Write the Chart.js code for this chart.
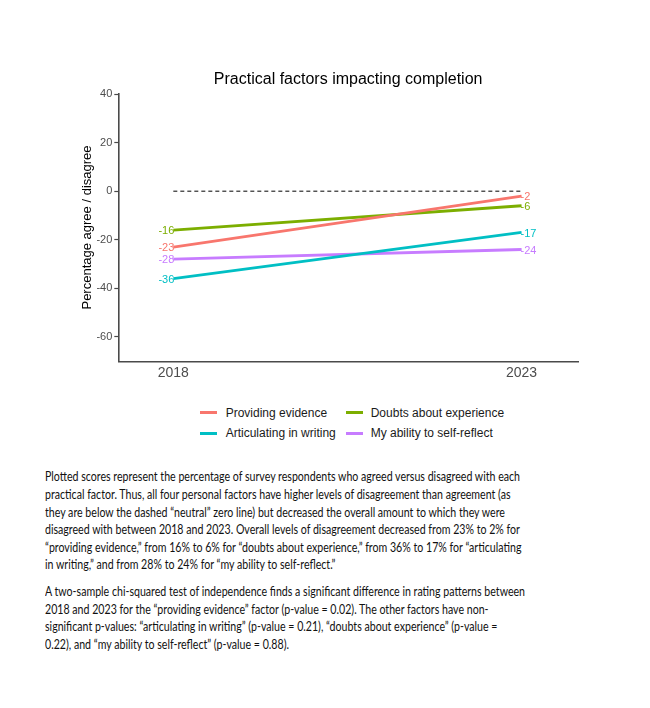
<!DOCTYPE html>
<html>
<head>
<meta charset="utf-8">
<script src="https://cdn.jsdelivr.net/npm/chart.js@4.4.0/dist/chart.umd.min.js"></script>
<style>
  html, body { margin: 0; padding: 0; background: #fff; }
  body { width: 650px; height: 708px; position: relative; overflow: hidden; }
  #c { position: absolute; left: 0; top: 0; }
  .leg { position: absolute; font-family: "Liberation Sans", Arial, sans-serif; font-size: 12px; color: #1a1a1a; white-space: nowrap; }
  .sw { position: absolute; height: 3px; width: 17px; }
  .txt { position: absolute; font-family: Lato, "Open Sans", sans-serif; font-size: 14px; color: #111; white-space: nowrap; line-height: 17px; transform-origin: 0 50%; }
</style>
</head>
<body>
<canvas id="c" width="650" height="400"></canvas>
<div id="legend"></div>
<div id="para"></div>
<script>
// ---- data ----
const years = [2018, 2023];
const seriesNames = ["Providing evidence", "Doubts about experience", "Articulating in writing", "My ability to self-reflect"];
const providingEvidence = [-23, -2];
const doubtsExperience = [-16, -6];
const articulatingWriting = [-36, -17];
const selfReflect = [-28, -24];
const neutralLine = [0, 0];
const yTicks = [-60, -40, -20, 0, 20, 40];
const colors = ["#F8766D", "#7CAE00", "#00BFC4", "#C77CFF"];
const chartTitle = "Practical factors impacting completion";

const seriesValues = [providingEvidence, doubtsExperience, articulatingWriting, selfReflect];

const datasets = seriesValues.map((vals, i) => ({
  label: seriesNames[i],
  data: years.map((y, j) => ({ x: y, y: vals[j] })),
  borderColor: colors[i],
  backgroundColor: colors[i],
  borderWidth: 2.8,
  pointRadius: 0,
  tension: 0,
  isSeries: true
}));
datasets.unshift({
  label: "neutral",
  data: years.map((y, j) => ({ x: y, y: neutralLine[j] })),
  borderColor: "#000",
  borderWidth: 1,
  borderDash: [4, 3],
  pointRadius: 0,
  isSeries: false
});

const labelPlugin = {
  id: "endLabels",
  afterDatasetsDraw(chart) {
    const ctx = chart.ctx;
    ctx.save();
    ctx.font = "11px 'Liberation Sans', Arial, sans-serif";
    ctx.textBaseline = "middle";
    chart.data.datasets.forEach((ds, di) => {
      if (!ds.isSeries) return;
      const meta = chart.getDatasetMeta(di);
      meta.data.forEach((pt, j) => {
        const v = ds.data[j].y;
        ctx.fillStyle = ds.borderColor;
        ctx.textAlign = j === 0 ? "right" : "left";
        ctx.fillText(String(v), pt.x + (j === 0 ? 1 : -1), pt.y + 1);
      });
    });
    ctx.restore();
  },
  afterDraw(chart) {
    const ctx = chart.ctx;
    const a = chart.chartArea;
    ctx.save();
    ctx.font = "16px 'Liberation Sans', Arial, sans-serif";
    ctx.fillStyle = "#000";
    ctx.textAlign = "center";
    ctx.textBaseline = "middle";
    ctx.fillText(chartTitle, (a.left + a.right) / 2, 80);
    ctx.restore();
  }
};

new Chart(document.getElementById("c"), {
  type: "line",
  data: { datasets },
  plugins: [labelPlugin],
  options: {
    responsive: false,
    animation: false,
    devicePixelRatio: 1,
    layout: { padding: { left: 0, right: 72, top: 93.3, bottom: 0 } },
    plugins: {
      legend: { display: false },
      tooltip: { enabled: false },
      title: { display: false }
    },
    scales: {
      x: {
        type: "linear",
        min: 2017.21,
        max: 2023.81,
        afterBuildTicks(scale) { scale.ticks = years.map(v => ({ value: v })); },
        afterFit(scale) { scale.height = 38.3; },
        ticks: {
          color: "#4d4d4d",
          font: { family: "'Liberation Sans', Arial, sans-serif", size: 14 },
          padding: 3,
          callback: v => String(v),
          maxRotation: 0
        },
        grid: { display: true, drawOnChartArea: false, drawTicks: false, tickLength: 0 },
        border: { display: true, color: "#4a4a4a", width: 1.6 }
      },
      y: {
        min: -70.2,
        max: 40.3,
        afterBuildTicks(scale) { scale.ticks = yTicks.map(v => ({ value: v })); },
        afterFit(scale) { scale.width = 118.3; },
        ticks: {
          color: "#4d4d4d",
          font: { family: "'Liberation Sans', Arial, sans-serif", size: 11 },
          padding: 2
        },
        grid: { display: true, drawOnChartArea: false, drawTicks: true, tickLength: 4, tickColor: "#4a4a4a", tickWidth: 1.2 },
        border: { display: true, color: "#4a4a4a", width: 1.6 },
        title: {
          display: true,
          text: "Percentage agree / disagree",
          color: "#000",
          font: { family: "'Liberation Sans', Arial, sans-serif", size: 13 },
          padding: { top: 79.2, bottom: 0 }
        }
      }
    }
  }
});

// ---- legend (HTML) ----
const legendPos = [
  { sx: 200, tx: 225.7, y: 412.7 },
  { sx: 345.7, tx: 370.7, y: 412.7 },
  { sx: 200, tx: 225.7, y: 433 },
  { sx: 345.7, tx: 370.7, y: 433 }
];
const legendOrder = [0, 1, 2, 3];
const legEl = document.getElementById("legend");
legendOrder.forEach((si, k) => {
  const p = legendPos[k];
  const sw = document.createElement("div");
  sw.className = "sw";
  sw.style.left = p.sx + "px";
  sw.style.top = (p.y - 1.5) + "px";
  sw.style.background = colors[si];
  legEl.appendChild(sw);
  const t = document.createElement("div");
  t.className = "leg";
  t.style.left = p.tx + "px";
  t.style.top = (p.y - 7) + "px";
  t.style.lineHeight = "14px";
  t.textContent = seriesNames[si];
  legEl.appendChild(t);
});

// ---- paragraph text ----
const paraLines = [
  "Plotted scores represent the percentage of survey respondents who agreed versus disagreed with each",
  "practical factor. Thus, all four personal factors have higher levels of disagreement than agreement (as",
  "they are below the dashed \u201cneutral\u201d zero line) but decreased the overall amount to which they were",
  "disagreed with between 2018 and 2023. Overall levels of disagreement decreased from 23% to 2% for",
  "\u201cproviding evidence,\u201d from 16% to 6% for \u201cdoubts about experience,\u201d from 36% to 17% for \u201carticulating",
  "in writing,\u201d and from 28% to 24% for \u201cmy ability to self-reflect.\u201d",
  "A two-sample chi-squared test of independence finds a significant difference in rating patterns between",
  "2018 and 2023 for the \u201cproviding evidence\u201d factor (p-value = 0.02). The other factors have non-",
  "significant p-values: \u201carticulating in writing\u201d (p-value = 0.21), \u201cdoubts about experience\u201d (p-value =",
  "0.22), and \u201cmy ability to self-reflect\u201d (p-value = 0.88)."
];
const paraY = [475.7, 493.3, 511.2, 528.5, 546, 563.5, 590.7, 608.3, 625.8, 643.2];
const paraEl = document.getElementById("para");
const els = paraLines.map((s, i) => {
  const d = document.createElement("div");
  d.className = "txt";
  d.style.left = "45px";
  d.style.top = (paraY[i] - 8.5) + "px";
  d.textContent = s;
  paraEl.appendChild(d);
  return d;
});
const w0 = els[0].getBoundingClientRect().width;
const sc = 475 / w0;
els.forEach(d => { d.style.transform = "scaleX(" + sc + ")"; });
</script>
</body>
</html>
